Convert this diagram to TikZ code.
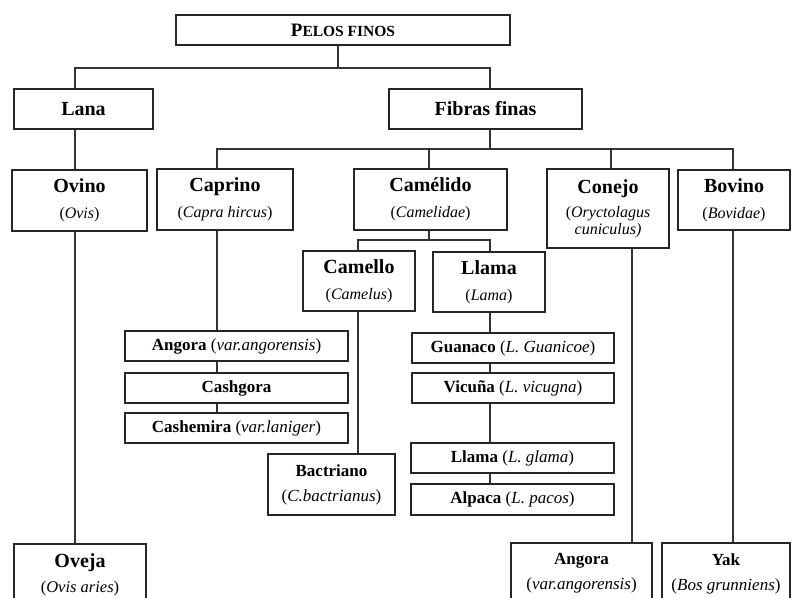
\documentclass[tikz,border=0pt]{standalone}
\usepackage{fontspec}
\setmainfont{Liberation Serif}
\newcommand\Tbig{\fontsize{20}{24}\selectfont\bfseries}
\newcommand\Tsub{\fontsize{16}{20}\selectfont}
\newcommand\Tsm{\fontsize{17}{20}\selectfont}
\begin{document}
\begin{tikzpicture}[x=1pt,y=-1pt,
  box/.style={draw=black!85, line width=1.1pt, inner sep=0pt, align=center, font=\Tsub},
  small/.style={box, font=\Tsm, minimum height=30pt},
  conn/.style={draw=black!80, line width=1.2pt}]
\useasboundingbox (0,0) rectangle (792,597);
% boxes
\node[box, minimum width=334pt, minimum height=30pt] (pelos) at (343,30)
  {{\fontsize{19}{20}\selectfont\bfseries P}{\fontsize{15.5}{20}\selectfont\bfseries ELOS FINOS}};
\node[box, minimum width=139pt, minimum height=40pt] (lana) at (83.5,109) {\Tbig Lana};
\node[box, minimum width=193pt, minimum height=40pt] (fibras) at (485.5,109) {\Tbig Fibras finas};
\node[box, minimum width=135pt, minimum height=61pt] (ovino) at (79.5,200.5)
  {{\Tbig Ovino}\\[6pt](\textit{Ovis})};
\node[box, minimum width=136pt, minimum height=61pt] (caprino) at (225,199.5)
  {{\Tbig Caprino}\\[6pt](\textit{Capra hircus})};
\node[box, minimum width=153pt, minimum height=61pt] (camelido) at (430.5,199.5)
  {{\Tbig Camélido}\\[6pt](\textit{Camelidae})};
\node[box, minimum width=122pt, minimum height=79pt] (conejo) at (608,208.5)
  {{\Tbig Conejo}\\[4pt](\textit{Oryctolagus}\\[-3pt]\textit{cuniculus)}};
\node[box, minimum width=112pt, minimum height=60pt] (bovino) at (734,200)
  {{\Tbig Bovino}\\[6pt](\textit{Bovidae})};
\node[box, minimum width=112pt, minimum height=60pt] (camello) at (359,281)
  {{\Tbig Camello}\\[6pt](\textit{Camelus})};
\node[box, minimum width=112pt, minimum height=60pt] (llama) at (489,282)
  {{\Tbig Llama}\\[6pt](\textit{Lama})};
\node[small, minimum width=223pt] (angoraC) at (236.5,346)
  {\textbf{Angora} (\textit{var.angorensis})};
\node[small, minimum width=223pt] (cashgora) at (236.5,388) {\textbf{Cashgora}};
\node[small, minimum width=223pt] (cashemira) at (236.5,428)
  {\textbf{Cashemira} (\textit{var.laniger})};
\node[small, minimum width=202pt] (guanaco) at (513,348)
  {\textbf{Guanaco} (\textit{L. Guanicoe})};
\node[small, minimum width=202pt] (vicuna) at (513,388)
  {\textbf{Vicuña} (\textit{L. vicugna})};
\node[small, minimum width=203pt] (llamag) at (512.5,458)
  {\textbf{Llama} (\textit{L. glama})};
\node[small, minimum width=203pt, minimum height=31pt] (alpaca) at (512.5,499.5)
  {\textbf{Alpaca} (\textit{L. pacos})};
\node[box, font=\Tsm, minimum width=127pt, minimum height=61pt] (bactriano) at (331.5,484.5)
  {\textbf{Bactriano}\\[5pt](\textit{C.bactrianus})};
\node[box, minimum width=132pt, minimum height=61pt] (oveja) at (80,574.5)
  {{\Tbig Oveja}\\[5pt]{\fontsize{16.5}{20}\selectfont(\textit{Ovis aries})}};
\node[box, font=\Tsm, minimum width=141pt, minimum height=61pt] (angoraB) at (581.5,573.5)
  {\textbf{Angora}\\[5pt](\textit{var.angorensis})};
\node[box, font=\Tsm, minimum width=128pt, minimum height=61pt] (yak) at (726,573.5)
  {\textbf{Yak}\\[5pt](\textit{Bos grunniens})};
% stems and buses
\coordinate (sA) at (75,0);
\coordinate (sP) at (338,0);
\coordinate (sF) at (490,0);
\coordinate (sCap) at (217,0);
\coordinate (sCam) at (429,0);
\coordinate (sCon) at (611,0);
\coordinate (sBov) at (733,0);
\coordinate (sCml) at (358,0);
\coordinate (sLl) at (490,0);
\coordinate (sCon2) at (632,0);
\coordinate (bus1) at (0,68);
\coordinate (bus2) at (0,149);
\coordinate (bus3) at (0,240);
% connectors
\draw[conn] (pelos.south -| sP) -- (bus1 -| sP);
\draw[conn] (lana.north -| sA) -- (bus1 -| sA) -- (bus1 -| sF) -- (fibras.north -| sF);
\draw[conn] (lana.south -| sA) -- (ovino.north -| sA);
\draw[conn] (ovino.south -| sA) -- (oveja.north -| sA);
\draw[conn] (fibras.south -| sF) -- (bus2 -| sF);
\draw[conn] (caprino.north -| sCap) -- (bus2 -| sCap) -- (bus2 -| sBov) -- (bovino.north -| sBov);
\draw[conn] (camelido.north -| sCam) -- (bus2 -| sCam);
\draw[conn] (conejo.north -| sCon) -- (bus2 -| sCon);
\draw[conn] (caprino.south -| sCap) -- (angoraC.north -| sCap);
\draw[conn] (angoraC.south -| sCap) -- (cashgora.north -| sCap);
\draw[conn] (cashgora.south -| sCap) -- (cashemira.north -| sCap);
\draw[conn] (camelido.south -| sCam) -- (bus3 -| sCam);
\draw[conn] (camello.north -| sCml) -- (bus3 -| sCml) -- (bus3 -| sLl) -- (llama.north -| sLl);
\draw[conn] (camello.south -| sCml) -- (bactriano.north -| sCml);
\draw[conn] (llama.south -| sLl) -- (guanaco.north -| sLl);
\draw[conn] (guanaco.south -| sLl) -- (vicuna.north -| sLl);
\draw[conn] (vicuna.south -| sLl) -- (llamag.north -| sLl);
\draw[conn] (llamag.south -| sLl) -- (alpaca.north -| sLl);
\draw[conn] (conejo.south -| sCon2) -- (angoraB.north -| sCon2);
\draw[conn] (bovino.south -| sBov) -- (yak.north -| sBov);
\end{tikzpicture}
\end{document}
